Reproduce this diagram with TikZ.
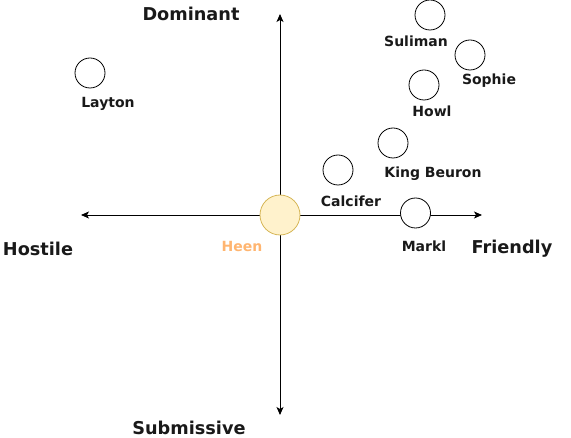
\documentclass[tikz,border=0pt]{standalone}
\usepackage{fontspec}
\setmainfont{DejaVu Sans}
\usetikzlibrary{arrows.meta}
\definecolor{heenfill}{HTML}{FFF2CC}
\definecolor{heendraw}{HTML}{D6B656}
\definecolor{heentext}{HTML}{FFB570}
\begin{document}
\begin{tikzpicture}[x=1pt,y=-1pt,
  person/.style={circle,draw=black,fill=white,line width=0.8pt,minimum size=30pt,inner sep=0pt},
  pname/.style={font=\fontsize{14}{16}\selectfont\bfseries,text=black!90,inner sep=0pt},
  axislabel/.style={font=\fontsize{17.7}{20}\selectfont\bfseries,text=black!90,inner sep=0pt},
  axis/.style={line width=0.9pt,-{Stealth[length=8pt,width=7pt,inset=2pt]}}]
\useasboundingbox (0,0) rectangle (571,438);
% axis end points
\coordinate (c) at (280,215);
\coordinate (L) at (81,215);
\coordinate (R) at (482,215);
\coordinate (T) at (280,14);
\coordinate (B) at (280,415);
\draw[axis] (c) -- (L);
\draw[axis] (c) -- (R);
\draw[axis] (c) -- (T);
\draw[axis] (c) -- (B);
% people
\node[person] (suliman) at (430,15) {};
\node[person] (sophie) at (470,55) {};
\node[person] (howl) at (424,85) {};
\node[person] (king) at (393,143) {};
\node[person] (calcifer) at (338,170) {};
\node[person] (markl) at (415.5,213) {};
\node[person] (layton) at (90,73) {};
\node[circle,draw=heendraw,fill=heenfill,line width=0.8pt,minimum size=40pt,inner sep=0pt] (heen) at (c) {};
% names
\node[pname] (lsuliman) at (416,41) {Suliman};
\node[pname] (lsophie) at (489,81) {Sophie};
\node[pname] (lhowl) at (432,111) {Howl};
\node[pname] (lking) at (433,174) {King Beuron};
\node[pname] (lcalcifer) at (351,201) {Calcifer};
\node[pname] (lmarkl) at (424,246) {Markl};
\node[pname] (llayton) at (108,104) {Layton};
\node[pname,text=heentext] (lheen) at (242,246) {Heen};
% axis labels
\node[axislabel] (dom) at (191,14) {Dominant};
\node[axislabel] (hos) at (38,249) {Hostile};
\node[axislabel] (fri) at (512,249) {Friendly};
\node[axislabel] (sub) at (189,427.5) {Submissive};
\end{tikzpicture}
\end{document}
